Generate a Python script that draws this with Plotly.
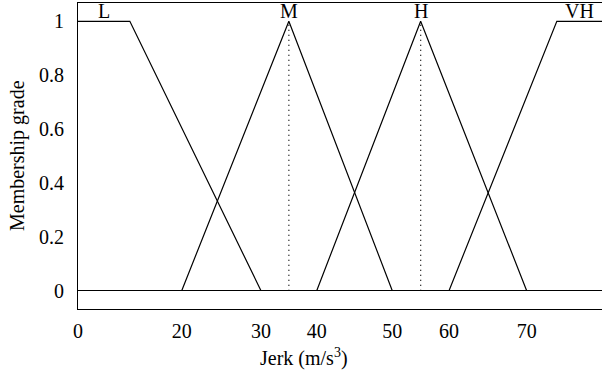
import numpy as np
import plotly.graph_objects as go

# Membership functions for jerk (m/s^3): breakpoints and grades
labels = ["L", "M", "H", "VH"]
l_x, l_y = [0, 10, 30], [1, 1, 0]
m_x, m_y = [20, 35, 50], [0, 1, 0]
h_x, h_y = [40, 55, 70], [0, 1, 0]
vh_x, vh_y = [60, 74, 80], [0, 1, 1]
peak_x = [35, 55]
label_x = [5, 35, 55, 77]

x_tick_values = [0, 20, 30, 40, 50, 60, 70]
y_tick_values = [0, 0.2, 0.4, 0.6, 0.8, 1]

# The horizontal axis is drawn schematically: each labelled value is placed
# on a piecewise-linear scale rather than a uniform one.
warp_values = [0, 20, 30, 40, 50, 60, 70, 80]
warp_pos = [0, 103.7, 183, 238.7, 314.3, 371, 448.7, 524]


def to_pos(v):
    return np.interp(v, warp_values, warp_pos)


FONT = "Liberation Serif"
SIZE = 20
fig = go.Figure()

for xs, ys in [(l_x, l_y), (m_x, m_y), (h_x, h_y), (vh_x, vh_y)]:
    fig.add_trace(go.Scatter(x=to_pos(xs), y=ys, mode="lines",
                             line=dict(color="black", width=1.2),
                             showlegend=False, hoverinfo="skip"))

for px in peak_x:
    fig.add_trace(go.Scatter(x=to_pos([px, px]), y=[0, 1], mode="lines",
                             line=dict(color="black", width=1.3, dash="1px,4px"),
                             showlegend=False, hoverinfo="skip"))

for name, lx in zip(labels, label_x):
    fig.add_annotation(x=float(to_pos(lx)), y=1, text=name, showarrow=False,
                       yanchor="bottom", yshift=-3,
                       font=dict(family=FONT, size=SIZE, color="black"))

fig.add_annotation(x=0.431, y=0, xref="paper", yref="paper", yanchor="top",
                   yshift=-34, text="Jerk (m/s<sup>3</sup>)", showarrow=False,
                   font=dict(family=FONT, size=SIZE, color="black"))

fig.add_annotation(x=0, y=0.5, xref="paper", yref="paper", xanchor="center",
                   xshift=-61, text="Membership grade", textangle=-90,
                   showarrow=False,
                   font=dict(family=FONT, size=SIZE, color="black"))

fig.update_layout(
    width=602, height=379,
    margin=dict(l=78, r=0, t=3, b=70),
    plot_bgcolor="white", paper_bgcolor="white",
    font=dict(family=FONT, size=SIZE, color="black"),
    xaxis=dict(range=[0, 524], tickvals=to_pos(x_tick_values),
               ticktext=[str(v) for v in x_tick_values],
               showgrid=False, zeroline=False, ticks="",
               showline=True, linecolor="black", linewidth=1.2, mirror=True,
               ticklabelstandoff=4),
    yaxis=dict(range=[-0.068, 1.068], tickvals=y_tick_values,
               ticktext=["0", "0.2", "0.4", "0.6", "0.8", "1"],
               showgrid=False, zeroline=True, zerolinecolor="black",
               zerolinewidth=1.2, ticks="",
               showline=True, linecolor="black", linewidth=1.2, mirror=False,
               ticklabelstandoff=9),
)

fig.write_html("out.html")
